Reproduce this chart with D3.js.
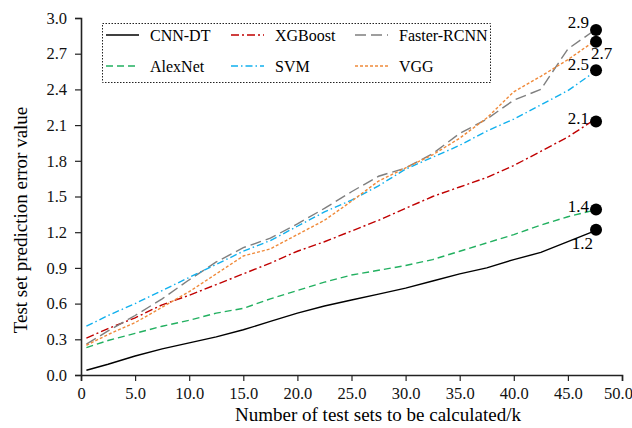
<!DOCTYPE html>
<meta charset="utf-8">
<script src="https://d3js.org/d3.v7.min.js"></script>
<div id="chart"></div>
<style>
  body { margin: 0; background: #fff; }
  svg text { font-family: 'Liberation Serif', 'Times New Roman', serif; }
</style>
<script>

// x positions shared by all series (k test sets)
var xs = [0.5, 2.5, 5, 7.5, 10, 12.5, 15, 17.5, 20, 22.5, 25, 27.5, 30, 32.5, 35, 37.5, 40, 42.5, 45, 47.2];

// series values
var cnnDT      = [0.04, 0.09, 0.16, 0.22, 0.27, 0.32, 0.38, 0.45, 0.52, 0.58, 0.63, 0.68, 0.73, 0.79, 0.85, 0.90, 0.97, 1.03, 1.12, 1.20];
var alexNet    = [0.23, 0.29, 0.35, 0.41, 0.46, 0.52, 0.56, 0.64, 0.71, 0.78, 0.84, 0.88, 0.92, 0.97, 1.04, 1.11, 1.18, 1.26, 1.33, 1.38];
var xgboost    = [0.31, 0.39, 0.48, 0.59, 0.67, 0.76, 0.85, 0.94, 1.04, 1.12, 1.21, 1.30, 1.40, 1.50, 1.58, 1.66, 1.76, 1.88, 2.00, 2.13];
var svm        = [0.41, 0.50, 0.60, 0.71, 0.82, 0.93, 1.04, 1.13, 1.25, 1.37, 1.47, 1.59, 1.73, 1.83, 1.93, 2.05, 2.15, 2.27, 2.39, 2.53];
var fasterRCNN = [0.26, 0.37, 0.50, 0.64, 0.80, 0.95, 1.07, 1.15, 1.27, 1.40, 1.54, 1.67, 1.74, 1.86, 2.03, 2.15, 2.31, 2.40, 2.74, 2.88];
var vgg        = [0.25, 0.34, 0.44, 0.57, 0.70, 0.85, 1.00, 1.06, 1.18, 1.30, 1.46, 1.63, 1.74, 1.85, 1.99, 2.16, 2.38, 2.51, 2.65, 2.79];

// end markers and their labels
var markerX = 47.6;
var markerValues = [2.90, 2.80, 2.56, 2.13, 1.39, 1.22];
var markerLabels = ["2.9", "2.7", "2.5", "2.1", "1.4", "1.2"];

var xTicks = [0, 5, 10, 15, 20, 25, 30, 35, 40, 45, 50];
var yTicks = [0, 0.3, 0.6, 0.9, 1.2, 1.5, 1.8, 2.1, 2.4, 2.7, 3.0];

var seriesNames = ["CNN-DT", "XGBoost", "Faster-RCNN", "AlexNet", "SVM", "VGG"];
var seriesData  = [cnnDT, xgboost, fasterRCNN, alexNet, svm, vgg];

var styles = {
  "CNN-DT":      {color: "#000000", dash: null},
  "XGBoost":     {color: "#c00000", dash: "8,3,2,3"},
  "Faster-RCNN": {color: "#7f7f7f", dash: "11,5"},
  "AlexNet":     {color: "#22b060", dash: "7,4"},
  "SVM":         {color: "#10b0ee", dash: "7,3,1.5,3"},
  "VGG":         {color: "#f08a3a", dash: "3,2"}
};

var W = 632, H = 428;
var margin = {top: 18, right: 10, bottom: 53, left: 81};
var width = 622 - margin.left,
    height = 375 - margin.top;

var svg = d3.select("#chart")
  .append("svg")
    .attr("width", W)
    .attr("height", H)
    .attr("font-family", "'Liberation Serif', serif");

var g = svg.append("g")
  .attr("transform", "translate(" + margin.left + "," + margin.top + ")");

var x = d3.scaleLinear().domain([0, 50]).range([0, width]);
var y = d3.scaleLinear().domain([0, 3]).range([height, 0]);

// axes
var xAxis = g.append("g")
  .attr("transform", "translate(0," + height + ")")
  .call(d3.axisBottom(x).tickValues(xTicks).tickSizeOuter(0).tickSize(6).tickPadding(6)
    .tickFormat(function(d) { return d === 0 ? "0" : d3.format(".1f")(d); }));

var yAxis = g.append("g")
  .call(d3.axisLeft(y).tickValues(yTicks).tickSizeOuter(0).tickSize(6).tickPadding(8)
    .tickFormat(d3.format(".1f")));

[xAxis, yAxis].forEach(function(a) {
  a.attr("font-family", null);
  a.selectAll("path").attr("stroke", "#222").attr("stroke-width", 1.6);
  a.selectAll("line").attr("stroke", "#222").attr("stroke-width", 1.2);
  a.selectAll("text")
    .style("font-size", "16.5px")
    .attr("fill", "#111");
});
// last x label sits against the right edge
xAxis.selectAll(".tick text").filter(function(d) { return d === 50; }).attr("dx", -4);

// axis titles
g.append("text")
  .attr("x", 297)
  .attr("y", height + 46)
  .attr("text-anchor", "middle")
  .style("font-size", "19px")
  .text("Number of test sets to be calculated/k");

g.append("text")
  .attr("transform", "rotate(-90)")
  .attr("x", -202)
  .attr("y", -54)
  .attr("text-anchor", "middle")
  .style("font-size", "19px")
  .text("Test set prediction error value");

// lines
var line = d3.line()
  .x(function(d, i) { return x(xs[i]); })
  .y(function(d) { return y(d); });

seriesNames.forEach(function(name, k) {
  g.append("path")
    .datum(seriesData[k])
    .attr("fill", "none")
    .attr("stroke", styles[name].color)
    .attr("stroke-width", 1.4)
    .attr("stroke-dasharray", styles[name].dash)
    .attr("d", line);
});

// end markers
g.selectAll(".marker")
  .data(markerValues)
  .enter()
  .append("circle")
    .attr("class", "marker")
    .attr("cx", x(markerX))
    .attr("cy", function(d) { return y(d); })
    .attr("r", 6)
    .attr("fill", "#000");

// label offsets relative to each dot
var labelDx = [-7, -5, -7, -7, -7, -3];
var labelDy = [-2, 17, 0, 2, 2, 19];
var labelAnchor = ["end", "start", "end", "end", "end", "end"];

g.selectAll(".mlabel")
  .data(markerLabels)
  .enter()
  .append("text")
    .attr("class", "mlabel")
    .attr("x", function(d, i) { return x(markerX) + labelDx[i]; })
    .attr("y", function(d, i) { return y(markerValues[i]) + labelDy[i]; })
    .attr("text-anchor", function(d, i) { return labelAnchor[i]; })
    .style("font-size", "17px")
    .text(function(d) { return d; });

// legend
var legend = svg.append("g");
legend.append("rect")
  .attr("x", 102.5)
  .attr("y", 23.5)
  .attr("width", 388)
  .attr("height", 59)
  .attr("fill", "#fff")
  .attr("stroke", "#222")
  .attr("stroke-width", 1)
  .attr("stroke-dasharray", "1.5,1.5");

var colX = [106, 231, 355];
seriesNames.forEach(function(name, k) {
  var cx = colX[k % 3], cy = k < 3 ? 35 : 66;
  legend.append("line")
    .attr("x1", cx).attr("x2", cx + 33)
    .attr("y1", cy).attr("y2", cy)
    .attr("stroke", styles[name].color)
    .attr("stroke-width", 1.4)
    .attr("stroke-dasharray", styles[name].dash);
  legend.append("text")
    .attr("x", cx + 44)
    .attr("y", cy)
    .attr("dy", "0.35em")
    .style("font-size", "16px")
    .text(name);
});

</script>
